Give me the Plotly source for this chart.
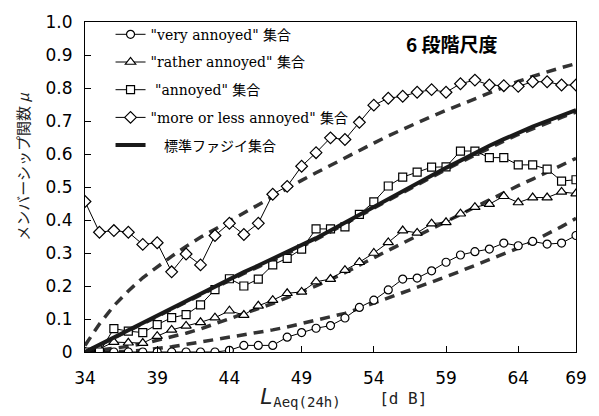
import plotly.graph_objects as go

x_db = list(range(34, 69))

very = [0.0, 0.0, 0.0, 0.0, 0.0, 0.0, 0.0, 0.0, 0.0, 0.0, 0.005, 0.02, 0.02, 0.02, 0.045,
        0.059, 0.072, 0.08, 0.103, 0.135, 0.157, 0.188, 0.221, 0.224, 0.246, 0.272, 0.294,
        0.304, 0.312, 0.33, 0.322, 0.335, 0.327, 0.33, 0.353]
rather = [0.0, 0.01, 0.03, 0.028, 0.027, 0.048, 0.067, 0.079, 0.09, 0.104, 0.125, 0.112, 0.14,
          0.157, 0.178, 0.182, 0.213, 0.221, 0.248, 0.272, 0.3, 0.332, 0.368, 0.361, 0.389,
          0.393, 0.419, 0.439, 0.448, 0.472, 0.453, 0.468, 0.468, 0.485, 0.48]
annoyed = [0.0, 0.0, 0.071, 0.063, 0.059, 0.083, 0.104, 0.113, 0.143, 0.189, 0.222, 0.2, 0.221,
           0.264, 0.284, 0.312, 0.373, 0.373, 0.379, 0.417, 0.455, 0.503, 0.53, 0.545, 0.56,
           0.561, 0.609, 0.609, 0.589, 0.589, 0.567, 0.567, 0.554, 0.518, 0.522]
more_less = [0.456, 0.363, 0.368, 0.363, 0.326, 0.331, 0.243, 0.297, 0.264, 0.353, 0.39, 0.356,
             0.39, 0.478, 0.502, 0.563, 0.604, 0.649, 0.644, 0.696, 0.748, 0.769, 0.775, 0.787,
             0.795, 0.787, 0.813, 0.824, 0.809, 0.807, 0.805, 0.819, 0.819, 0.809, 0.809]
standard = [0.0, 0.022, 0.045, 0.067, 0.09, 0.112, 0.134, 0.156, 0.178, 0.2, 0.222, 0.242, 0.262,
            0.282, 0.302, 0.323, 0.345, 0.368, 0.392, 0.416, 0.44, 0.464, 0.488, 0.512, 0.535,
            0.558, 0.58, 0.603, 0.625, 0.645, 0.665, 0.683, 0.7, 0.717, 0.733]

fit_more_less = [0.02, 0.085, 0.14, 0.185, 0.225, 0.258, 0.29, 0.32, 0.348, 0.372, 0.397, 0.422,
                 0.447, 0.47, 0.495, 0.52, 0.543, 0.566, 0.589, 0.611, 0.633, 0.655, 0.675,
                 0.695, 0.714, 0.732, 0.75, 0.768, 0.786, 0.803, 0.82, 0.835, 0.849, 0.862, 0.874]
fit_annoyed = [0.0, 0.02, 0.042, 0.064, 0.086, 0.108, 0.13, 0.152, 0.174, 0.196, 0.218, 0.238,
               0.258, 0.278, 0.298, 0.319, 0.341, 0.364, 0.388, 0.412, 0.436, 0.46, 0.484,
               0.507, 0.53, 0.553, 0.575, 0.597, 0.619, 0.639, 0.659, 0.677, 0.694, 0.711, 0.727]
fit_rather = [0.0, 0.005, 0.01, 0.017, 0.025, 0.035, 0.045, 0.057, 0.07, 0.085, 0.1, 0.115, 0.13,
              0.147, 0.165, 0.182, 0.2, 0.22, 0.24, 0.263, 0.287, 0.308, 0.33, 0.352, 0.374,
              0.395, 0.416, 0.438, 0.46, 0.482, 0.504, 0.524, 0.545, 0.566, 0.587]
fit_very = [0.0, 0.0, 0.0, 0.002, 0.005, 0.01, 0.016, 0.023, 0.03, 0.037, 0.044, 0.051, 0.058,
            0.067, 0.076, 0.086, 0.096, 0.106, 0.117, 0.132, 0.148, 0.163, 0.178, 0.194, 0.21,
            0.228, 0.245, 0.262, 0.28, 0.297, 0.315, 0.335, 0.357, 0.38, 0.405]

x_tickvals = [34, 39, 44, 49, 54, 59, 64, 68]
x_ticktext = ["34", "39", "44", "49", "54", "59", "64", "69"]
y_tickvals = [0, 0.1, 0.2, 0.3, 0.4, 0.5, 0.6, 0.7, 0.8, 0.9, 1.0]
y_ticktext = ["0", "0.1", "0.2", "0.3", "0.4", "0.5", "0.6", "0.7", "0.8", "0.9", "1.0"]

NB = "\u00a0"
labels = ['"very annoyed" 集合', '"rather annoyed" 集合', NB + '"annoyed" 集合',
          '"more or less annoyed" 集合', NB * 3 + '標準ファジイ集合']

fig = go.Figure()

dash_style = dict(color="#333333", width=3.5, dash="10px,7px")
for fy in [fit_more_less, fit_annoyed, fit_rather, fit_very]:
    fig.add_trace(go.Scatter(x=x_db, y=fy, mode="lines", line=dash_style,
                             showlegend=False, hoverinfo="skip"))

series = [(very, "circle", 8), (rather, "triangle-up", 9), (annoyed, "square", 8),
          (more_less, "diamond", 9)]
for i, (ys, sym, sz) in enumerate(series):
    fig.add_trace(go.Scatter(
        x=x_db, y=ys, mode="lines+markers", name=labels[i], legendgroup=str(i),
        line=dict(color="black", width=1),
        marker=dict(symbol=sym, size=sz, color="white", line=dict(color="black", width=1.2)),
    ))

fig.add_trace(go.Scatter(x=x_db, y=standard, mode="lines", name=labels[4], legendgroup="4",
                         line=dict(color="#1a1a1a", width=4)))

FONT_SERIF = "DejaVu Serif, Noto Sans CJK JP, serif"
FONT_SANS = "DejaVu Sans, Noto Sans CJK JP, sans-serif"

fig.update_layout(
    width=599, height=416,
    margin=dict(l=85, r=17, t=15, b=64),
    paper_bgcolor="white", plot_bgcolor="white",
    showlegend=True,
    legend=dict(x=0.052, y=1.01, xanchor="left", yanchor="top",
                bgcolor="rgba(0,0,0,0)", borderwidth=0,
                font=dict(family=FONT_SERIF, size=14, color="black"),
                traceorder="grouped", tracegroupgap=6.5),
    xaxis=dict(range=[34, 68], tickvals=x_tickvals, ticktext=x_ticktext,
               showgrid=False, zeroline=False, showline=True, linecolor="black", linewidth=1.2,
               mirror=True, ticks="inside", ticklen=6, tickcolor="black",
               tickfont=dict(family=FONT_SANS, size=17, color="black"),
               ticklabelstandoff=10),
    yaxis=dict(range=[0, 1.0], tickvals=y_tickvals, ticktext=y_ticktext,
               showgrid=False, zeroline=False, showline=True, linecolor="black", linewidth=1.2,
               mirror=True, ticks="inside", ticklen=6, tickcolor="black",
               tickfont=dict(family=FONT_SANS, size=17, color="black"),
               ticklabelstandoff=8),
    annotations=[
        dict(text="<b>6 段階尺度</b>", x=(456 - 85) / 497, y=(352 - 37) / 337,
             xref="paper", yref="paper", xanchor="center", yanchor="middle",
             showarrow=False, font=dict(family="Noto Sans CJK JP", size=19, color="black")),
        dict(text="メンバーシップ関数 <i>μ</i>", textangle=-90, xref="paper", yref="paper",
             x=(22 - 85) / 497, y=(352 - 163) / 337, xanchor="center", yanchor="middle",
             showarrow=False,
             font=dict(family="Noto Sans CJK JP", size=15, color="#222")),
        dict(text="<span style='font-size:22px'><i>L</i></span>"
                  "<sub><span style='font-size:14px'>Aeq(24h)</span></sub>"
                  + NB * 4 + "[d B]", xref="paper", yref="paper",
             x=(347 - 85) / 497, y=(352 - 398) / 337, xanchor="center", yanchor="middle",
             showarrow=False,
             font=dict(family="DejaVu Sans Mono, monospace", size=16, color="#222")),
    ],
)

fig.write_html("out.html")
